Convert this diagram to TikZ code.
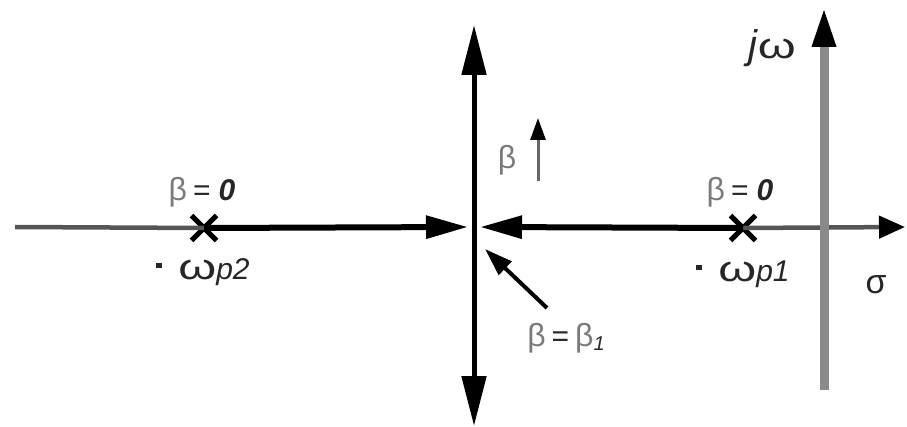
\documentclass[tikz,border=0pt]{standalone}
\usepackage{fontspec}
\setmainfont{Liberation Sans}
\usetikzlibrary{arrows.meta,shapes.misc}
\definecolor{axgray}{HTML}{8A8A8A}
\definecolor{thingray}{HTML}{555555}
\definecolor{txtgray}{HTML}{7A7A7A}
\tikzset{
  lbl/.style={inner sep=0pt, font=\fontsize{30}{32}\selectfont, text=black!85},
  pole/.style={cross out, draw=black, line width=5pt, minimum size=20pt, inner sep=0pt},
  thinaxis/.style={draw=thingray, line width=4.5pt},
  thickpath/.style={draw=black, line width=6pt, -{Triangle[length=42pt,width=22pt]}},
  mainaxis/.style={draw=black, line width=5pt, {Triangle[length=50pt,width=24pt]}-{Triangle[length=50pt,width=24pt]}}
}
\newcommand{\gb}{\textcolor{txtgray}{\fontsize{32}{34}\selectfont β}}
\newcommand{\bw}{\scalebox{1.35}[1]{\fontsize{36}{38}\selectfont ω}}
\newcommand{\mk}{\raisebox{11pt}{\rule{6pt}{5pt}}}
\begin{document}
\begin{tikzpicture}[x=1pt,y=-1pt]
\useasboundingbox (0,0) rectangle (907,427);
% coordinates
\coordinate (L) at (15,227);
\coordinate (R) at (905,227);
\coordinate (aL) at (468,227);
\coordinate (aR) at (480,227);
\coordinate (vt) at (474,25);
\coordinate (vb) at (474,426);
\coordinate (gt) at (824,7);
\coordinate (gb) at (824,390);
% poles
\node[pole] (p2) at (204,228) {};
\node[pole] (p1) at (743,228) {};
% thin axis pieces
\draw[thinaxis] (L) -- (p2.center);
\draw[thinaxis, -{Triangle[length=26pt,width=22pt,color=black]}] (p1.center) -- (R);
% thick root-locus paths
\draw[thickpath] (p2.center) -- (aL);
\draw[thickpath] (p1.center) -- (aR);
% vertical axis through origin
\draw[mainaxis] (vb) -- (vt);
% gray jw axis
\draw[draw=axgray, line width=9pt, -{Triangle[length=40pt,width=22pt,color=black]}] (gb) -- (gt);
% small beta arrow
\coordinate (sb0) at (538,181);
\coordinate (sb1) at (538,118);
\draw[draw=black!60, line width=3pt, -{Triangle[length=22pt,width=15pt,color=black]}] (sb0) -- (sb1);
% diagonal arrow
\coordinate (d0) at (547,308);
\coordinate (d1) at (485,249);
\draw[draw=black, line width=4pt, -{Triangle[length=28pt,width=18pt]}] (d0) -- (d1);
% labels
\node[lbl] (b2) at (202,192) {\gb\hspace{6pt}=\hspace{8pt}\textbf{\textit{0}}};
\node[lbl] (b1) at (740,192) {\gb\hspace{6pt}=\hspace{8pt}\textbf{\textit{0}}};
\node[lbl, text=txtgray] (bb) at (507,160) {\fontsize{32}{34}\selectfont β};
\node[lbl] (w2) at (203,272) {\mk\hspace{16pt}\bw\textit{p2}};
\node[lbl] (w1) at (743,274) {\mk\hspace{16pt}\bw\textit{p1}};
\node[lbl, font=\fontsize{34}{36}\selectfont] (sig) at (876,285) {σ};
\node[lbl] (jw) at (772,48) {\fontsize{40}{42}\selectfont\textit{j}\bw};
\node[lbl] (bb1) at (566,338) {\gb\hspace{6pt}=\hspace{6pt}\gb\textit{\fontsize{20}{22}\selectfont\raisebox{-4pt}{1}}};
\end{tikzpicture}
\end{document}
